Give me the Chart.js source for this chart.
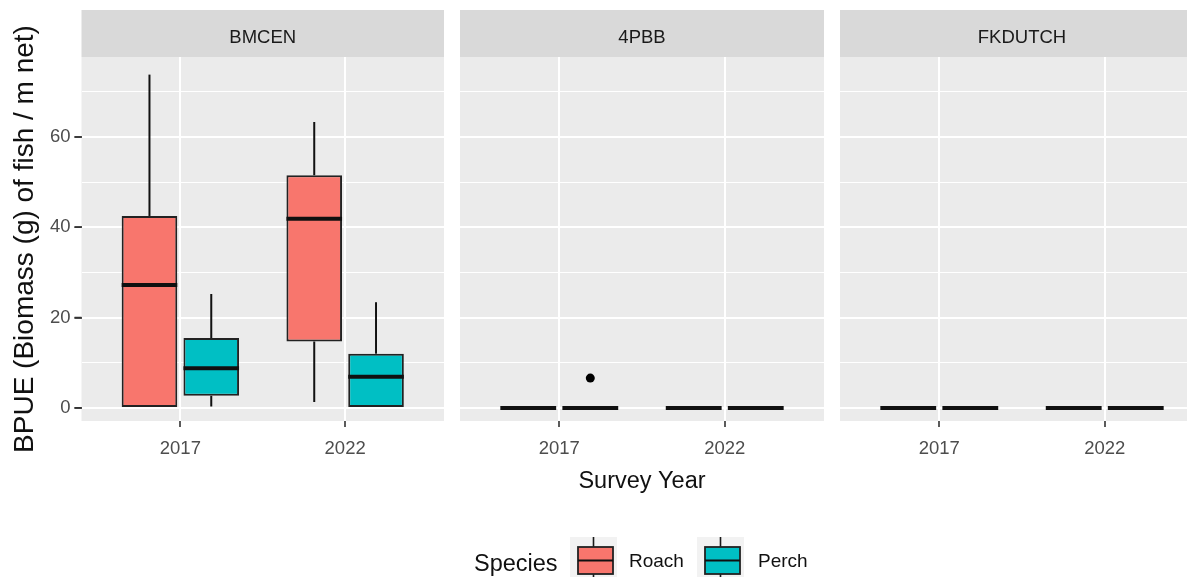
<!DOCTYPE html>
<html>
<head>
<meta charset="utf-8">
<title>BPUE by survey year</title>
<script src="https://cdn.jsdelivr.net/npm/chart.js@4.4.1/dist/chart.umd.min.js"></script>
<style>
  html, body { margin: 0; padding: 0; width: 1187px; height: 577px; overflow: hidden; background: #ffffff; }
  body { position: relative; font-family: "Liberation Sans", Arial, sans-serif; }
  .panel { position: absolute; top: 0; }
  .panel canvas { display: block; }
  .lg { position: absolute; white-space: nowrap; }
  .lg-title { font-size: 23.5px; line-height: 28px; color: #111; }
  .lg-label { font-size: 19px; line-height: 22px; color: #111; }
  .lg-key { position: absolute; }
</style>
</head>
<body>
<div class="panel" id="w0" style="left:0px"><canvas id="c0" width="452" height="577"></canvas></div>
<div class="panel" id="w1" style="left:452px"><canvas id="c1" width="380" height="577"></canvas></div>
<div class="panel" id="w2" style="left:832px"><canvas id="c2" width="380" height="577"></canvas></div>

<div class="lg lg-title" style="left:474px; top:549px;">Species</div>
<canvas class="lg-key" id="key0" width="47" height="48" style="left:570px; top:537px;"></canvas>
<div class="lg lg-label" style="left:629px; top:550px;">Roach</div>
<canvas class="lg-key" id="key1" width="47" height="48" style="left:697px; top:537px;"></canvas>
<div class="lg lg-label" style="left:758px; top:550px;">Perch</div>

<script>
// Sites (facets), survey years and species
const sites = ['BMCEN', '4PBB', 'FKDUTCH'];
const years = ['2017', '2022'];
const species = ['Roach', 'Perch'];
const speciesColors = ['#F8766D', '#00BFC4'];

// Box statistics, indexed [site][year]
const roachMin    = [[0.0, 1.3],  [0, 0], [0, 0]];
const roachQ1     = [[0.0, 14.7], [0, 0], [0, 0]];
const roachMedian = [[27.2, 41.9], [0, 0], [0, 0]];
const roachQ3     = [[42.5, 51.5], [0, 0], [0, 0]];
const roachMax    = [[73.8, 63.3], [0, 0], [0, 0]];

const perchMin    = [[0.3, 0.0],  [0, 0], [0, 0]];
const perchQ1     = [[2.7, 0.0],  [0, 0], [0, 0]];
const perchMedian = [[8.8, 6.9],  [0, 0], [0, 0]];
const perchQ3     = [[15.5, 12.0], [0, 0], [0, 0]];
const perchMax    = [[25.2, 23.4], [0, 0], [0, 0]];

// Outlying observations, indexed [site][year]
const roachOutliers = [[[], []], [[], []], [[], []]];
const perchOutliers = [[[], []], [[6.6], []], [[], []]];

// Y axis: labelled breaks and the grid lines between them
const yTicks = [0, 20, 40, 60];
const yMinorTicks = [10, 30, 50, 70];
const yLimits = [-2.9, 77.7];

const stats = [
  { min: roachMin, q1: roachQ1, median: roachMedian, q3: roachQ3, max: roachMax, out: roachOutliers },
  { min: perchMin, q1: perchQ1, median: perchMedian, q3: perchQ3, max: perchMax, out: perchOutliers }
];

const FONT = '"Liberation Sans", Arial, sans-serif';
const PANEL_BG = '#EBEBEB';
const STRIP_BG = '#D9D9D9';
const STRIP_TOP = 10;
const OUTLINE = '#222222';
const TICK_LEN = 7;

// Panel regions in each canvas's own pixel coordinates
const panelBoxes = [
  { left: 81.5, right: 444, top: 57, bottom: 421 },
  { left: 8, right: 372, top: 57, bottom: 421 },
  { left: 8, right: 372, top: 57, bottom: 421 }
];

// Panel background, facet strip, whiskers, medians, outliers and y tick marks
const boxplotExtras = {
  id: 'boxplotExtras',
  beforeDraw(chart, args, opts) {
    const { ctx, chartArea: a } = chart;
    ctx.save();
    ctx.fillStyle = PANEL_BG;
    ctx.fillRect(a.left, a.top, a.right - a.left, a.bottom - a.top);
    ctx.fillStyle = STRIP_BG;
    ctx.fillRect(a.left, STRIP_TOP, a.right - a.left, a.top - STRIP_TOP);
    ctx.fillStyle = '#1A1A1A';
    ctx.font = '18.5px ' + FONT;
    ctx.textAlign = 'center';
    ctx.textBaseline = 'middle';
    ctx.fillText(sites[opts.site], (a.left + a.right) / 2, 38);
    ctx.restore();
  },
  beforeDatasetsDraw(chart, args, opts) {
    const { ctx } = chart;
    const y = chart.scales.y;
    ctx.save();
    ctx.strokeStyle = '#111111';
    ctx.lineWidth = 2;
    species.forEach((sp, di) => {
      const meta = chart.getDatasetMeta(di);
      const st = stats[di];
      years.forEach((yr, yi) => {
        const bar = meta.data[yi];
        ctx.beginPath();
        ctx.moveTo(bar.x, y.getPixelForValue(st.q3[opts.site][yi]));
        ctx.lineTo(bar.x, y.getPixelForValue(st.max[opts.site][yi]));
        ctx.moveTo(bar.x, y.getPixelForValue(st.q1[opts.site][yi]));
        ctx.lineTo(bar.x, y.getPixelForValue(st.min[opts.site][yi]));
        ctx.stroke();
      });
    });
    ctx.restore();
  },
  afterDatasetsDraw(chart, args, opts) {
    const { ctx } = chart;
    const y = chart.scales.y;
    ctx.save();
    species.forEach((sp, di) => {
      const meta = chart.getDatasetMeta(di);
      const st = stats[di];
      years.forEach((yr, yi) => {
        const bar = meta.data[yi];
        const half = bar.width / 2;
        const ym = y.getPixelForValue(st.median[opts.site][yi]);
        ctx.strokeStyle = '#101010';
        ctx.lineWidth = 4;
        ctx.lineCap = 'butt';
        ctx.beginPath();
        ctx.moveTo(bar.x - half, ym);
        ctx.lineTo(bar.x + half, ym);
        ctx.stroke();
        ctx.fillStyle = '#000000';
        st.out[opts.site][yi].forEach(v => {
          ctx.beginPath();
          ctx.arc(bar.x, y.getPixelForValue(v), 4.5, 0, Math.PI * 2);
          ctx.fill();
        });
      });
    });
    ctx.restore();
  },
  afterDraw(chart, args, opts) {
    if (!opts.yAxis) return;
    const { ctx, chartArea: a } = chart;
    const y = chart.scales.y;
    ctx.save();
    ctx.strokeStyle = '#333333';
    ctx.lineWidth = 1.6;
    ctx.beginPath();
    yTicks.forEach(v => {
      const py = y.getPixelForValue(v);
      ctx.moveTo(a.left - TICK_LEN, py);
      ctx.lineTo(a.left, py);
    });
    ctx.stroke();
    ctx.restore();
  }
};

function makeChart(siteIndex) {
  const first = siteIndex === 0;
  const middle = siteIndex === 1;
  const datasets = species.map((sp, di) => ({
    label: sp,
    data: years.map((yr, yi) => ({ x: yi + 1, y: [stats[di].q1[siteIndex][yi], stats[di].q3[siteIndex][yi]] })),
    backgroundColor: speciesColors[di],
    borderColor: OUTLINE,
    borderWidth: 2,
    borderSkipped: false,
    categoryPercentage: 0.75,
    barPercentage: 0.9,
    grouped: true
  }));

  return new Chart(document.getElementById('c' + siteIndex), {
    type: 'bar',
    data: { datasets },
    plugins: [boxplotExtras],
    options: {
      responsive: false,
      animation: false,
      events: [],
      parsing: true,
      layout: { padding: { left: first ? 0 : 8, right: 8, top: 57, bottom: 100 } },
      plugins: {
        legend: { display: false },
        tooltip: { enabled: false },
        title: { display: false },
        boxplotExtras: { site: siteIndex, yAxis: first }
      },
      scales: {
        x: {
          type: 'linear',
          min: 0.4,
          max: 2.6,
          offset: false,
          afterBuildTicks: (scale) => { scale.ticks = years.map((yr, i) => ({ value: i + 1 })); },
          ticks: {
            autoSkip: false,
            maxRotation: 0,
            padding: 11,
            color: '#4D4D4D',
            font: { family: FONT, size: 18.5 },
            callback: (v) => years[v - 1]
          },
          grid: {
            offset: false,
            color: '#FFFFFF',
            lineWidth: 2,
            drawTicks: true,
            tickLength: 6,
            tickColor: '#333333',
            tickWidth: 1.6
          },
          border: { display: false },
          title: {
            display: middle,
            text: 'Survey Year',
            color: '#111111',
            font: { family: FONT, size: 23.5 },
            padding: { top: -4, bottom: 0 }
          }
        },
        y: {
          type: 'linear',
          min: yLimits[0],
          max: yLimits[1],
          afterBuildTicks: (scale) => {
            scale.ticks = yTicks.concat(yMinorTicks).sort((a, b) => a - b).map(v => ({ value: v }));
          },
          ticks: {
            display: first,
            autoSkip: false,
            padding: 4,
            color: '#4D4D4D',
            font: { family: FONT, size: 18.5 },
            callback: (v) => yTicks.includes(v) ? String(v) : ''
          },
          grid: {
            color: '#FFFFFF',
            lineWidth: (ctx) => yTicks.includes(ctx.tick.value) ? 2 : 1,
            drawTicks: first,
            tickLength: TICK_LEN,
            tickWidth: 1.6,
            tickColor: (ctx) => yTicks.includes(ctx.tick.value) ? '#333333' : 'rgba(0,0,0,0)'
          },
          border: { display: false },
          title: {
            display: first,
            text: 'BPUE (Biomass (g) of fish / m net)',
            color: '#111111',
            font: { family: FONT, size: 28 },
            padding: { top: 0, bottom: 4 }
          }
        }
      }
    }
  });
}

// Nudge the layout padding so each plot area lands on its panel box
function fitPanel(chart, box) {
  for (let k = 0; k < 3; k++) {
    const a = chart.chartArea;
    const p = chart.options.layout.padding;
    chart.options.layout.padding = {
      left: p.left + (box.left - a.left),
      right: p.right + (a.right - box.right),
      top: p.top + (box.top - a.top),
      bottom: p.bottom + (a.bottom - box.bottom)
    };
    chart.update('none');
  }
}

const charts = sites.map((s, i) => makeChart(i));
charts.forEach((c, i) => fitPanel(c, panelBoxes[i]));

// Legend keys: a small box-and-whisker glyph per species
species.forEach((sp, di) => {
  const cv = document.getElementById('key' + di);
  const g = cv.getContext('2d');
  g.fillStyle = '#F2F2F2';
  g.fillRect(0, 0, cv.width, cv.height);
  const cx = cv.width / 2;
  g.strokeStyle = '#1A1A1A';
  g.lineWidth = 1.6;
  g.beginPath();
  g.moveTo(cx, 0); g.lineTo(cx, 10);
  g.moveTo(cx, 37); g.lineTo(cx, cv.height);
  g.stroke();
  g.fillStyle = speciesColors[di];
  g.fillRect(8, 10, 35, 27);
  g.strokeStyle = OUTLINE;
  g.lineWidth = 1.8;
  g.strokeRect(8, 10, 35, 27);
  g.strokeStyle = '#101010';
  g.lineWidth = 2.2;
  g.beginPath();
  g.moveTo(8, 23.5); g.lineTo(43, 23.5);
  g.stroke();
});
</script>
</body>
</html>
